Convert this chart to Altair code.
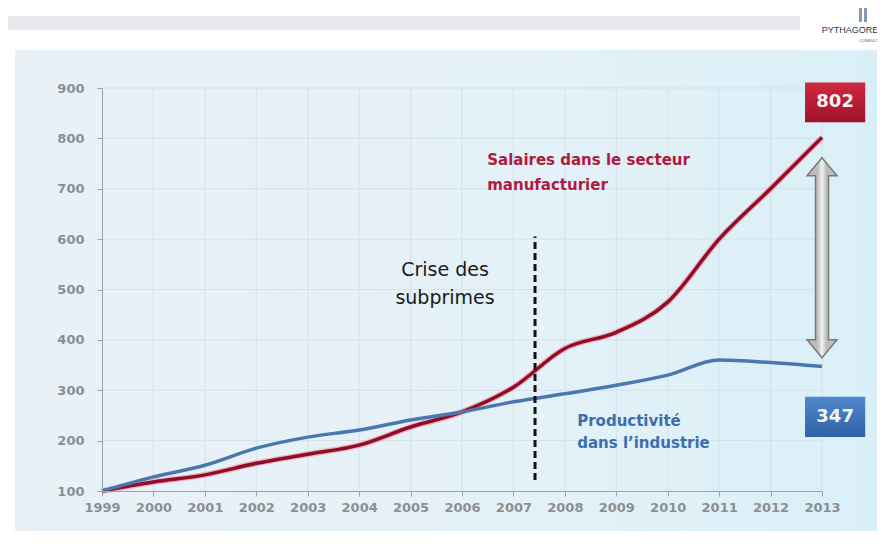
import altair as alt
import pandas as pd

years = list(range(1999, 2014))
salaires = [100, 118, 132, 155, 173, 191, 227, 257, 306, 383, 415, 475, 600, 700, 802]
productivite = [100, 128, 151, 185, 207, 221, 241, 257, 277, 293, 310, 330, 360, 355, 347]
y_ticks = list(range(100, 1000, 100))

crisis_year = [2007.42]
crisis_range = [122, 605]
crisis_label = ["Crise des", "subprimes"]
salaires_label = ["Salaires dans le secteur", "manufacturier"]
prod_label = ["Productivité", "dans l\u2019industrie"]
end_values = [802, 347]

FONT = "DejaVu Sans"
GRID = "#d3e1ea"

df = pd.DataFrame({
    "year": years * 2,
    "value": salaires + productivite,
    "serie": ["Salaires"] * len(years) + ["Productivité"] * len(years),
})
df_sal = pd.DataFrame({"year": years, "value": salaires})

xscale = alt.Scale(domain=[1999, 2013], nice=False, zero=False)
yscale = alt.Scale(domain=[100, 900], nice=False, zero=False)

axis_common = dict(
    title=None, grid=False, domainColor="#9aa3aa", tickColor="#9aa3aa", tickSize=5,
    labelColor="#8a8f94", labelFont=FONT, labelFontSize=13, labelFontWeight="bold", zindex=1,
    labelOverlap=False, labelFlush=False,
)
XA = alt.Axis(values=years, format="d", labelPadding=5, **axis_common)
YA = alt.Axis(values=y_ticks, labelPadding=13, **axis_common)


def X(field):
    return alt.X(field, type="quantitative", scale=xscale, axis=XA)


def Y(field):
    return alt.Y(field, type="quantitative", scale=yscale, axis=YA)


def vgrad(top, bottom):
    return alt.Gradient(gradient="linear", x1=0, y1=0, x2=0, y2=1,
                        stops=[alt.GradientStop(color=top, offset=0),
                               alt.GradientStop(color=bottom, offset=1)])


one = alt.Data(values=[{"k": 0}])

# background panel and header bar (decoration)
panel = alt.Chart(one).mark_rect(
    fill=alt.Gradient(
        gradient="linear", x1=0, y1=0, x2=1, y2=0,
        stops=[alt.GradientStop(color="#e9f1f7", offset=0),
               alt.GradientStop(color="#e4f1f8", offset=0.6),
               alt.GradientStop(color="#d9eff7", offset=1)]),
).encode(x=alt.value(-87), x2=alt.value(790), y=alt.value(-38), y2=alt.value(460))

header = alt.Chart(one).mark_rect(color="#e8e8ec").encode(
    x=alt.value(-97), x2=alt.value(698), y=alt.value(-72), y2=alt.value(-58))

logo = alt.Chart(one).mark_text(
    text="PYTHAGORE", font="Liberation Sans", fontSize=9, color="#333344", align="center"
).encode(x=alt.value(748), y=alt.value(-58))
logo2 = alt.Chart(one).mark_text(
    text="CONSULT", font="Liberation Sans", fontSize=4, color="#555566", align="right"
).encode(x=alt.value(776), y=alt.value(-47))
logo_bar1 = alt.Chart(one).mark_rect(color="#8a98b8").encode(
    x=alt.value(757), x2=alt.value(760), y=alt.value(-80), y2=alt.value(-66))
logo_bar2 = alt.Chart(one).mark_rect(color="#8a98b8").encode(
    x=alt.value(762), x2=alt.value(765), y=alt.value(-80), y2=alt.value(-66))

# grid lines
vgrid = alt.Chart(pd.DataFrame({"year": years[1:]})).mark_rule(color=GRID, strokeWidth=1).encode(
    x=X("year"), y=alt.value(0), y2=alt.value(403))
hgrid = alt.Chart(pd.DataFrame({"v": y_ticks[1:]})).mark_rule(color=GRID, strokeWidth=1).encode(
    y=Y("v"), x=alt.value(0), x2=alt.value(720))

halo = alt.Chart(df_sal).mark_line(
    interpolate="monotone", strokeWidth=6, color="#eaa0aa", opacity=0.75
).encode(x=X("year"), y=Y("value"), order=alt.Order("year:Q"))

lines = alt.Chart(df).mark_line(interpolate="monotone", strokeWidth=3.5).encode(
    x=X("year"), y=Y("value"),
    color=alt.Color("serie:N", scale=alt.Scale(
        domain=["Productivité", "Salaires"], range=["#4a78ae", "#900c28"]), legend=None),
    order=alt.Order("year:Q"),
)

crisis = alt.Chart(pd.DataFrame({"x": crisis_year, "y": [crisis_range[0]], "y2": [crisis_range[1]]})).mark_rule(
    color="#111111", strokeWidth=3, strokeDash=[7, 4]
).encode(x=X("x"), y=Y("y"), y2="y2:Q")

crisis_txt = alt.Chart(pd.DataFrame({"x": [2005.67] * 2, "y": [538, 483], "t": crisis_label})).mark_text(
    font=FONT, fontSize=19, color="#1a1a1a", align="center", baseline="middle"
).encode(x=X("x"), y=Y("y"), text="t:N")

sal_txt = alt.Chart(pd.DataFrame({"x": [2006.49] * 2, "y": [757, 707], "t": salaires_label})).mark_text(
    font=FONT, fontSize=15, fontWeight="bold", color="#b01a3c", align="left", baseline="middle"
).encode(x=X("x"), y=Y("y"), text="t:N")

prod_txt = alt.Chart(pd.DataFrame({"x": [2008.24] * 2, "y": [239, 195], "t": prod_label})).mark_text(
    font=FONT, fontSize=15, fontWeight="bold", color="#3c6eae", align="left", baseline="middle"
).encode(x=X("x"), y=Y("y"), text="t:N")

box_r = alt.Chart(pd.DataFrame({"x": [2012.67], "x2": [2013.84], "y": [911], "y2": [832]})).mark_rect(
    fill=vgrad("#cf2a40", "#a0102a")
).encode(x=X("x"), x2="x2:Q", y=Y("y"), y2="y2:Q")
box_b = alt.Chart(pd.DataFrame({"x": [2012.67], "x2": [2013.84], "y": [287], "y2": [207]})).mark_rect(
    fill=vgrad("#5088cc", "#2f62a6")
).encode(x=X("x"), x2="x2:Q", y=Y("y"), y2="y2:Q")

box_txt = alt.Chart(pd.DataFrame({
    "xm": [2013.255, 2013.255], "ym": [871.5, 247], "t": [str(v) for v in end_values]
})).mark_text(
    font=FONT, fontSize=18, fontWeight="bold", color="#f2f2f2", align="center", baseline="middle"
).encode(x=X("xm"), y=Y("ym"), text="t:N")

arrow_path = ("M0,-1 L0.15,-0.82 L0.065,-0.82 L0.065,0.82 L0.15,0.82 L0,1 "
              "L-0.15,0.82 L-0.065,0.82 L-0.065,-0.82 L-0.15,-0.82 Z")
arrow = alt.Chart(pd.DataFrame({"x": [2013.0], "y": [563]})).mark_point(
    shape=arrow_path, size=40000, filled=True,
    fill=alt.Gradient(gradient="linear", x1=0, y1=0, x2=1, y2=0,
                      stops=[alt.GradientStop(color="#bdbdbd", offset=0.35),
                             alt.GradientStop(color="#f2f2f2", offset=0.5),
                             alt.GradientStop(color="#bdbdbd", offset=0.65)]),
    stroke="#7a7a7a", strokeWidth=1.5, opacity=1,
).encode(x=X("x"), y=Y("y"))

chart = alt.layer(
    panel, header, logo, logo2, logo_bar1, logo_bar2, vgrid, hgrid, halo, lines, crisis,
    crisis_txt, sal_txt, prod_txt, arrow, box_r, box_b, box_txt
).properties(
    width=720, height=403,
    autosize=alt.AutoSizeParams(type="none"),
    padding={"left": 94, "top": 80, "right": 55, "bottom": 40},
    background="#ffffff",
).configure_view(stroke=None)

chart.save("out.html", embed_options={"renderer": "svg", "actions": False})
